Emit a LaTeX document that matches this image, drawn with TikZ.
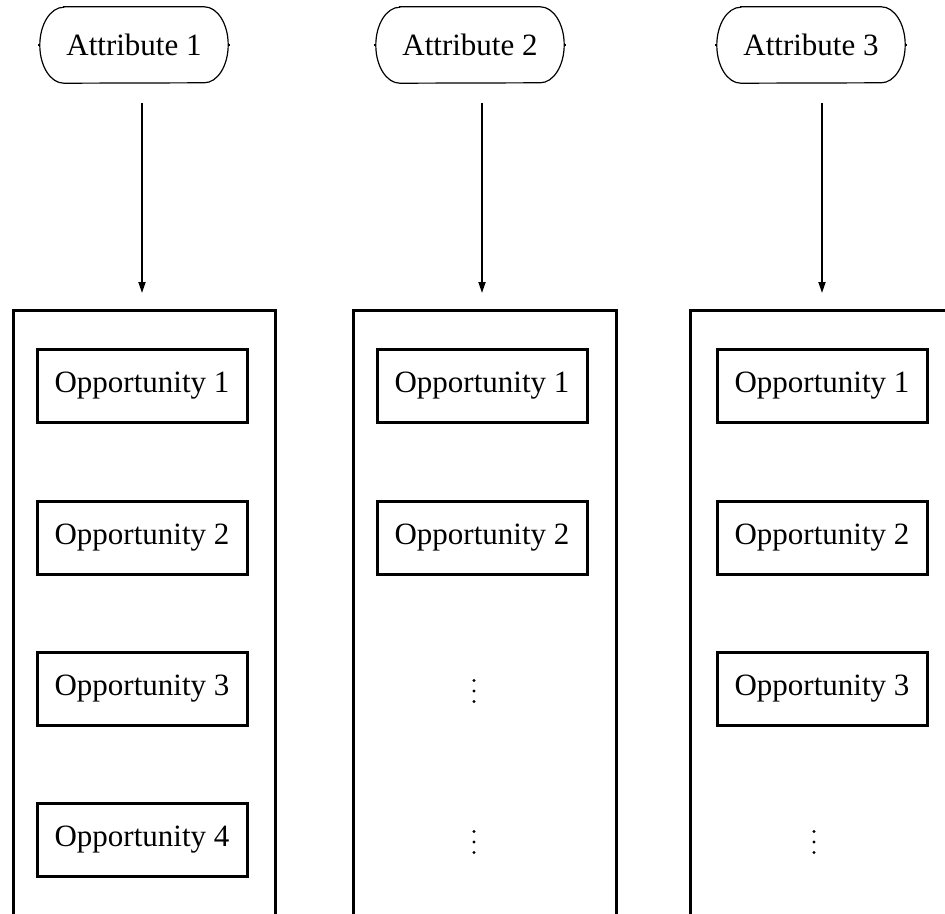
\documentclass[tikz,border=0pt]{standalone}
\usepackage{fontspec}
\setmainfont{Liberation Serif}
\usetikzlibrary{arrows.meta}
\begin{document}
\begin{tikzpicture}[x=1pt,y=-1pt,
  txt/.style={font=\fontsize{31}{36}\selectfont},
  attr/.style={txt,minimum width=188pt,minimum height=76pt,inner sep=0pt},
  attrline/.style={line width=1.2pt},
  opp/.style={txt,draw,line width=3pt,minimum width=210pt,minimum height=73pt,inner sep=0pt},
  colline/.style={line width=3pt},
  link/.style={line width=1.8pt,-{Triangle[length=11pt,width=7pt]}},
  dotmark/.style={fill=black}
]
\useasboundingbox (0,0) rectangle (945,913);

% attribute headers
\node[attr] (a1) at (134,45) {Attribute 1};
\node[attr] (a2) at (470,45) {Attribute 2};
\node[attr] (a3) at (811,45) {Attribute 3};
\foreach \n in {a1,a2,a3}{
  \draw[attrline] ([xshift=24pt]\n.north west) -- ([xshift=-24pt]\n.north east)
    arc[start angle=90,end angle=-90,x radius=24pt,y radius=38pt]
    -- ([xshift=24pt]\n.south west)
    arc[start angle=270,end angle=90,x radius=24pt,y radius=38pt] -- cycle;
  \draw[attrline] (\n.west) -- ++(-2,0);
  \draw[attrline] (\n.east) -- ++(2,0);
}

% arrows from headers to columns
\coordinate (s1) at (142,103); \coordinate (h1) at (142,293);
\coordinate (s2) at (482,103); \coordinate (h2) at (482,293);
\coordinate (s3) at (822,103); \coordinate (h3) at (822,293);
\draw[link] (s1) -- (h1);
\draw[link] (s2) -- (h2);
\draw[link] (s3) -- (h3);

% open column frames
\coordinate (c1a) at (13,920);  \coordinate (c1b) at (13,310);  \coordinate (c1c) at (275,310); \coordinate (c1d) at (275,920);
\coordinate (c2a) at (353,920); \coordinate (c2b) at (353,310); \coordinate (c2c) at (616,310); \coordinate (c2d) at (616,920);
\coordinate (c3a) at (690,920); \coordinate (c3b) at (690,310); \coordinate (c3c) at (960,310); \coordinate (c3d) at (960,920);
\draw[colline] (c1a) -- (c1b) -- (c1c) -- (c1d);
\draw[colline] (c2a) -- (c2b) -- (c2c) -- (c2d);
\draw[colline] (c3a) -- (c3b) -- (c3c) -- (c3d);

% opportunities
\node[opp] (o11) at (142,386)   {Opportunity 1};
\node[opp] (o12) at (142,537.5) {Opportunity 2};
\node[opp] (o13) at (142,689)   {Opportunity 3};
\node[opp] (o14) at (142,840)   {Opportunity 4};
\node[opp] (o21) at (482,386)   {Opportunity 1};
\node[opp] (o22) at (482,537.5) {Opportunity 2};
\node[opp] (o31) at (822,386)   {Opportunity 1};
\node[opp] (o32) at (822,537.5) {Opportunity 2};
\node[opp] (o33) at (822,689)   {Opportunity 3};

% continuation dots
\foreach \cx/\cy in {474/691, 474/842, 814/842}{
  \foreach \d in {-10.5,0,10.5}
    \fill[dotmark] (\cx,\cy+\d) circle[radius=1.7pt];
}
\end{tikzpicture}
\end{document}
